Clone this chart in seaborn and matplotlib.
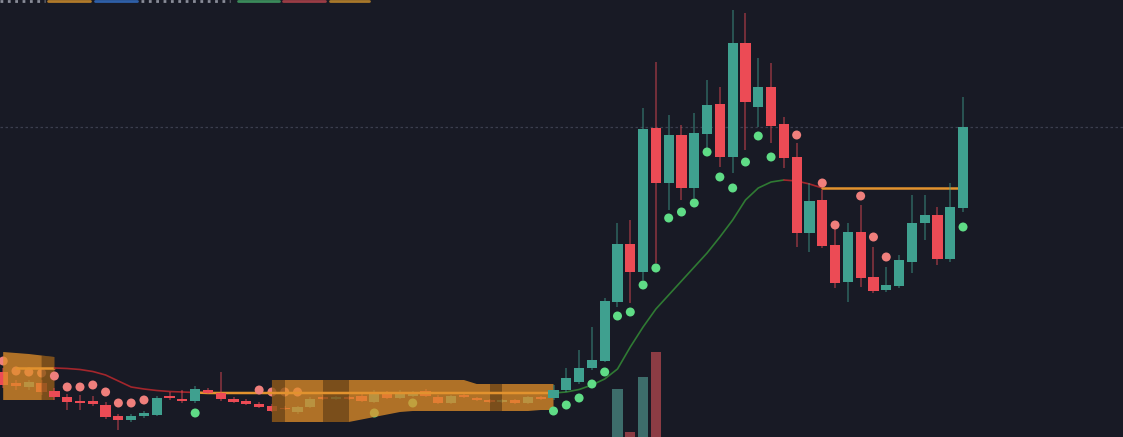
import numpy as np
import pandas as pd
import seaborn as sns
import matplotlib.pyplot as plt

# candles (arbitrary price units), one per bar
opens = [65, 54, 50, 54, 46, 40, 35.5, 36, 32, 21,
         17, 21, 22, 40.5, 38, 36, 47, 44, 38, 36,
         33, 31, 29, 25, 30, 40, 38, 39.5, 41, 35,
         44, 39, 41, 46, 40, 34, 42, 39, 37, 35,
         37, 34, 40, 39, 47, 55, 69, 76, 135, 193,
         165, 309, 254, 302, 249, 303, 333, 280, 394, 330,
         350, 313, 280, 204, 237, 192, 155, 205, 160, 147,
         151, 175, 214, 222, 178, 229]
highs = [69, 57, 57, 57, 49, 43, 42, 41, 35, 23,
         23, 26, 41, 45, 47, 51, 49, 65, 40, 38,
         35, 33, 31, 31, 40, 42, 41, 41, 43, 47,
         46, 47, 46, 48, 42, 42, 43, 40, 38, 38,
         38, 41, 41, 52, 69, 87, 110, 139, 214, 217,
         329, 375, 322, 312, 324, 357, 350, 427, 424, 379,
         374, 320, 294, 254, 247, 209, 214, 232, 190, 170,
         182, 242, 242, 230, 254, 340]
lows = [49, 47, 47, 42, 37, 27, 27, 31, 18, 7,
        15, 19, 21, 37, 34, 34, 43, 36, 34, 32,
        29, 25, 27, 23, 29, 37, 37, 37, 35, 34,
        38, 38, 40, 40, 33, 33, 39, 36, 34, 34,
        33, 33, 37, 37, 45, 53, 67, 75, 130, 134,
        157, 174, 227, 237, 239, 287, 270, 264, 287, 310,
        294, 269, 190, 185, 189, 149, 135, 150, 144, 145,
        149, 164, 197, 172, 175, 225]
closes = [52, 51, 55, 45, 40, 35, 34.5, 33, 20, 17,
          21, 24, 39, 39.5, 36, 48, 44, 38, 35, 33,
          30, 26, 28, 30, 38, 38, 40, 38.5, 36, 45,
          39, 45, 44, 41, 34, 41, 40, 37, 35, 37,
          34, 40, 38, 47, 59, 69, 77, 136, 193, 165,
          308, 254, 302, 249, 304, 332, 280, 394, 335, 350,
          311, 279, 204, 236, 191, 154, 205, 159, 146, 152,
          177, 214, 222, 178, 230, 310]

# parabolic SAR dots
sar_above_idx = [0, 1, 2, 3, 4, 5, 6, 7, 8, 9, 10, 11, 20, 21, 22, 23, 62, 64, 65, 67, 68, 69]
sar_above = [76, 66, 65, 64, 61, 50, 50, 52, 45, 34, 34, 37, 47, 45, 45, 45, 302, 254, 212, 241, 200, 180]
sar_below_idx = [15, 29, 32, 43, 44, 45, 46, 47, 48, 49, 50, 51, 52, 53, 54, 55, 56, 57, 58, 59, 60, 75]
sar_below = [24, 24, 34, 26, 32, 39, 53, 65, 121, 125, 152, 169, 219, 225, 234, 285, 260, 249, 275, 301, 280, 210]

# moving average, coloured by trend
ma_idx = list(range(1, 76))
ma = [69, 69, 69, 69, 68.5, 67.5, 65.5, 62, 56, 50,
      48, 46.5, 45.5, 45, 44.5, 44, 44, 44, 44, 44,
      44, 44, 44, 44, 44, 44, 44, 44, 44, 44,
      44, 44, 44, 44, 44, 44, 44, 44, 44, 44,
      44, 44, 44, 45, 47.5, 52, 58, 68, 90, 110,
      128, 142, 156, 170, 184, 200, 217, 237, 249, 255,
      257, 256, 253, 249, 249, 249, 249, 249, 249, 249,
      249, 249, 249, 249, 249]
ma_segments = [(1, 4, 'flat'), (4, 15, 'down'), (15, 43, 'flat'),
               (43, 61, 'up'), (61, 64, 'down'), (64, 75, 'flat')]

# orange range band
band_left_idx = [0, 1, 2, 3, 4]
band_left_top = [85, 84, 83, 81.5, 80]
band_left_bot = [37, 37, 37, 37, 37]
band_mid_idx = list(range(21, 44))
band_mid_top = [57, 57, 57, 57, 57, 57, 57, 57, 57, 57, 57, 57, 57, 57, 57, 57,
                53, 53, 53, 53, 53, 53, 53]
band_mid_bot = [15, 15, 15, 15, 15, 15, 15, 17.5, 20, 22.5, 25,
                26, 26, 26, 26, 26, 26, 26, 26, 26, 26, 27, 27]
band_dark_idx = [3, 4, 21, 22, 25, 26, 27, 38, 39]

vol_idx = [48, 49, 50, 51]
volume = [148, 105, 160, 185]

bg = '#181a25'
up_c, dn_c = '#3fa08f', '#ec4b55'

sns.set_theme(style='dark', rc={'axes.facecolor': bg, 'figure.facecolor': bg})

df = pd.DataFrame({'open': opens, 'high': highs, 'low': lows, 'close': closes})
df['up'] = df['close'] >= df['open']
df['color'] = np.where(df['up'], up_c, dn_c)
df['bottom'] = df[['open', 'close']].min(axis=1)
df['body'] = (df['close'] - df['open']).abs().clip(lower=1.3)

band = pd.DataFrame(index=df.index, columns=['top', 'bot'], dtype=float)
band.loc[band_left_idx, 'top'] = band_left_top
band.loc[band_left_idx, 'bot'] = band_left_bot
band.loc[band_mid_idx, 'top'] = band_mid_top
band.loc[band_mid_idx, 'bot'] = band_mid_bot

under_band = set(band_left_idx[:-1]) | set(band_mid_idx[:-1])
df['z'] = [3 if i in under_band else 6 for i in df.index]

fig = plt.figure(figsize=(11.23, 4.37), dpi=100)
ax = fig.add_axes([0, 0, 1, 1])

# volume on its own scale, base sits below the visible area
vax = ax.twinx()
vol_colors = ['#3d6d6b' if df.loc[i, 'up'] else '#8c3c44' for i in vol_idx]
vax.bar(vol_idx, volume, width=0.8, color=vol_colors, linewidth=0, zorder=1)
vax.set_ylim(100, 537)
vax.axis('off')
ax.set_zorder(vax.get_zorder() + 1)
ax.patch.set_visible(False)

# candles
for z, part in df.groupby('z'):
    ax.vlines(part.index, part['low'], part['high'], colors=part['color'],
              lw=1.1, alpha=0.55, zorder=z)
    ax.bar(part.index, part['body'], bottom=part['bottom'], width=0.8,
           color=part['color'], linewidth=0, zorder=z + 0.2)

# SAR dots
for idx, vals, col in [(sar_above_idx, sar_above, '#ef7f7c'), (sar_below_idx, sar_below, '#5fdc86')]:
    d = pd.DataFrame({'i': idx, 'v': vals})
    inside = d['i'].isin(under_band)
    sns.scatterplot(data=d[inside], x='i', y='v', color=col, s=42, edgecolor='none', ax=ax, zorder=3.5)
    sns.scatterplot(data=d[~inside], x='i', y='v', color=col, s=42, edgecolor='none', ax=ax, zorder=6.5)

# band
ax.fill_between(band.index, band['top'], band['bot'], where=band['top'].notna(),
                color='#e08e28', alpha=0.76, lw=0, zorder=4)
dark = band.index.isin(band_dark_idx)
ax.fill_between(band.index, band['top'], band['bot'], where=dark,
                color='black', alpha=0.3, lw=0, zorder=4.1)

# moving average
ma_s = pd.Series(ma, index=ma_idx)
styles = {'flat': ('#e2922e', 1.8), 'down': ('#a3262c', 1.2), 'up': ('#2f7a33', 1.2)}
for a, b, kind in ma_segments:
    seg = ma_s.loc[a:b]
    c, w = styles[kind]
    sns.lineplot(x=seg.index, y=seg.values, color=c, lw=w, ax=ax, zorder=5)

# last price line
ax.axhline(closes[-1], color='#3b3e4e', lw=0.9, ls=(0, (2, 2)), zorder=1)

# clipped status line at top
status = [(0.0, 0.04, '#8a8d99', ':'), (0.043, 0.080, '#b07a2a', '-'),
          (0.085, 0.122, '#2e5fa8', '-'), (0.126, 0.205, '#8a8d99', ':'),
          (0.212, 0.248, '#3a8a5a', '-'), (0.252, 0.289, '#9a3c45', '-'),
          (0.294, 0.329, '#a8782a', '-')]
for x0, x1, c, ls in status:
    ax.axhline(436, xmin=x0, xmax=x1, color=c, lw=2, ls=ls, zorder=7)

ax.set_xlim(-0.25, 87.5)
ax.set_ylim(0, 437)
ax.axis('off')

plt.savefig('out.png', dpi=100, facecolor=bg)
